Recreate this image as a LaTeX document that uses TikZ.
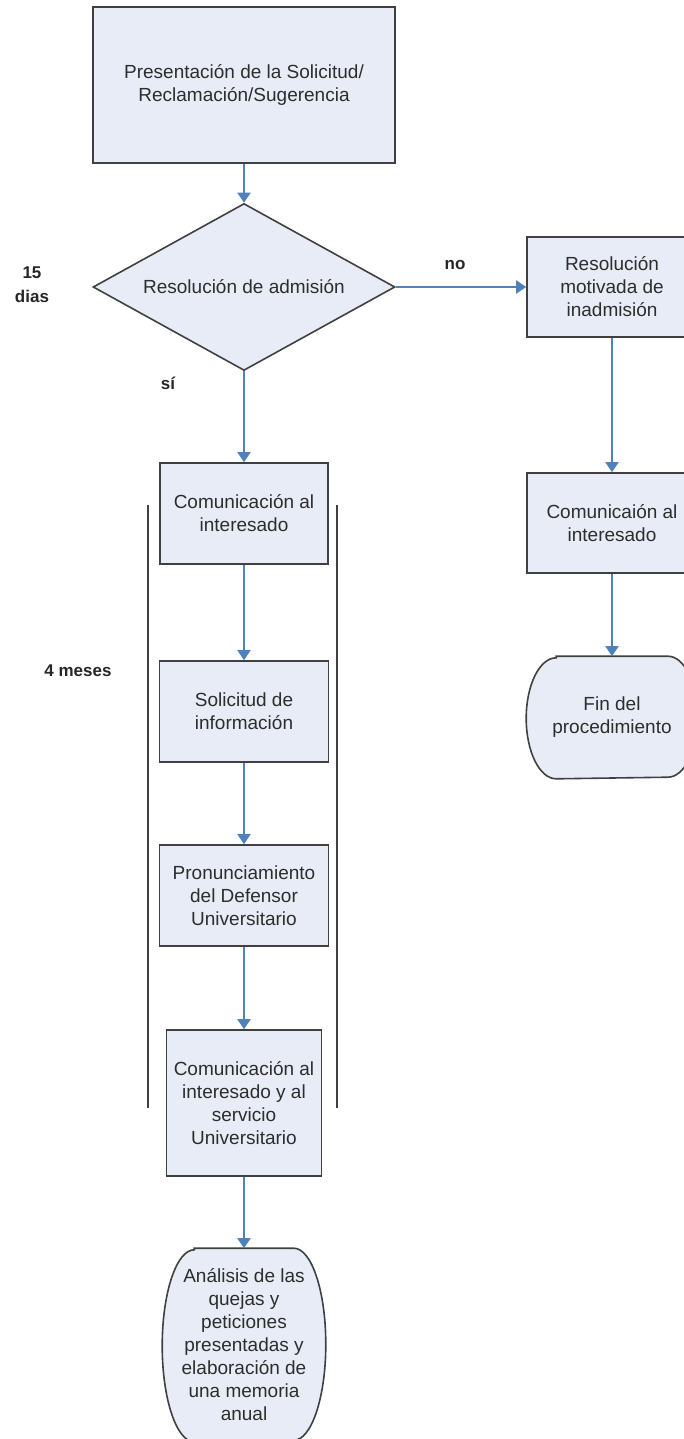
\documentclass[tikz,border=0pt]{standalone}
\usepackage{fontspec}
\setmainfont{Liberation Sans}
\usepackage{tikz}
\usetikzlibrary{shapes.geometric, arrows.meta, positioning, calc, backgrounds}
\usepackage{xcolor}

\definecolor{boxfill}{RGB}{231,236,247}
\definecolor{flowblue}{RGB}{79,129,189}
\definecolor{boxtext}{RGB}{45,45,45}

\begin{document}
\begin{tikzpicture}[
    x=1pt, y=-1pt,
    box/.style = {rectangle, draw=black!75, fill=boxfill, line width=1.6pt, align=center, font=\fontsize{19}{23}\selectfont, text=boxtext, inner sep=0pt},
    decision/.style = {diamond, draw=black!75, fill=boxfill, line width=1.6pt, align=center, font=\fontsize{19}{23}\selectfont, text=boxtext, aspect=1.81, inner sep=0pt, minimum width=302pt, minimum height=167pt},
    terminal/.style = {box, draw=none, fill=none},
    termline/.style = {draw=black!75, fill=boxfill, line width=1.6pt},
    note/.style = {font=\bfseries\fontsize{17}{24}\selectfont, text=black!85, align=center},
    arrow/.style = {draw=flowblue, line width=1.8pt, -{Triangle[width=13pt, length=10pt]}},
    bar/.style = {draw=black!75, line width=1.6pt}
]
\useasboundingbox (0,0) rectangle (684,1439);

% Start
\node (presentacion) [box, minimum width=302pt, minimum height=156pt, at={(244,85)}] {Presentación de la Solicitud/\\Reclamación/Sugerencia};

% Decision
\node (admision) [decision, at={(244,287)}] {Resolución de admisión};

% Branch no
\node (inadmision) [box, minimum width=170pt, minimum height=100pt, at={(612,287)}] {Resolución\\motivada de\\inadmisión};
\node (comunicR) [box, minimum width=170pt, minimum height=100pt, at={(612,523)}] {Comunicaión al\\interesado};
\node (fin) [terminal, minimum width=170pt, minimum height=121pt, at={(612,717.5)}] {Fin del\\procedimiento};

% Branch si
\node (comunic) [box, minimum width=168pt, minimum height=101pt, at={(244,513.5)}] {Comunicación al\\interesado};
\node (solicitud) [box, minimum width=169pt, minimum height=101pt, at={(244,711.5)}] {Solicitud de\\información};
\node (pronunc) [box, minimum width=169pt, minimum height=101pt, at={(244,895.5)}] {Pronunciamiento\\del Defensor\\Universitario};
\node (comunicfin) [box, minimum width=155pt, minimum height=146pt, at={(244,1103)}] {Comunicación al\\interesado y al\\servicio\\Universitario};
\node (analisis) [terminal, minimum width=162pt, minimum height=192pt, at={(244,1345)}] {Análisis de las\\quejas y\\peticiones\\presentadas y\\elaboración de\\una memoria\\anual};

% Terminal outlines
\begin{scope}[on background layer]
\draw [termline] ($(fin.north west)+(30,0)$) -- ($(fin.north east)+(-30,0)$)
    arc[start angle=90, end angle=-90, x radius=30pt, y radius=60.5pt]
    -- ($(fin.south west)+(30,0)$)
    arc[start angle=270, end angle=90, x radius=30pt, y radius=60.5pt] -- cycle;
\draw [termline] ($(analisis.north west)+(32,0)$) -- ($(analisis.north east)+(-32,0)$)
    arc[start angle=90, end angle=-90, x radius=32pt, y radius=96pt]
    -- ($(analisis.south west)+(32,0)$)
    arc[start angle=270, end angle=90, x radius=32pt, y radius=96pt] -- cycle;
\end{scope}

% Plazos
\node (dias) [note, at={(32,285)}] {15\\dias};
\node (meses) [note, at={(78,671)}] {4 meses};
\node (no) [note, at={(455,265)}] {no};
\node (si) [note, at={(168,383)}] {sí};

\draw [bar] (148,505) -- (148,1108);
\draw [bar] (337,505) -- (337,1108);

% Connections
\draw [arrow] (presentacion) -- (admision);
\draw [arrow] (admision.east) -- (inadmision);
\draw [arrow] (admision.south) -- (comunic);
\draw [arrow] (comunic) -- (solicitud);
\draw [arrow] (solicitud) -- (pronunc);
\draw [arrow] (pronunc) -- (comunicfin);
\draw [arrow] (comunicfin) -- (analisis);

\draw [arrow] (inadmision) -- (comunicR);
\draw [arrow] (comunicR) -- (fin);

\end{tikzpicture}
\end{document}
